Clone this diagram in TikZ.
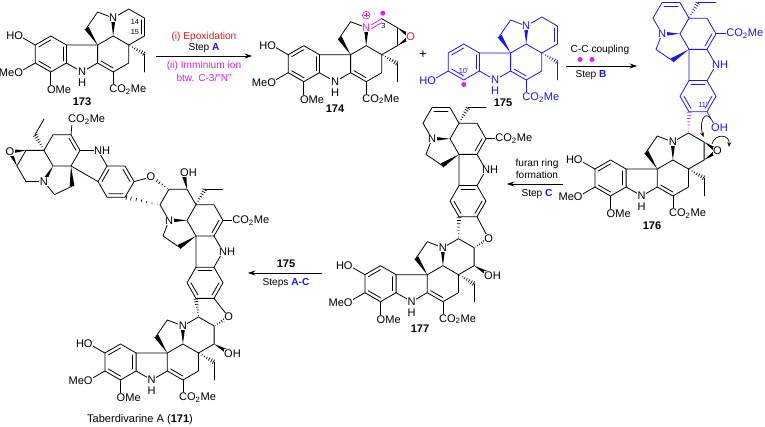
\documentclass[tikz,border=0pt]{standalone}
\usepackage{fontspec}
\setmainfont{Liberation Sans}
\usetikzlibrary{calc,arrows.meta}
\definecolor{cblue}{RGB}{25,25,235}
\definecolor{cpink}{RGB}{230,30,230}
\definecolor{cred}{RGB}{235,25,25}
\tikzset{
 bond/.style={line width=0.6pt, line cap=round, line join=round},
 atom/.style={fill=white, inner sep=0.4pt, font=\fontsize{8.3}{9}\selectfont},
 cpd/.style={inner sep=0pt, font=\fontsize{8.3}{9}\selectfont\bfseries},
 rxn/.style={inner sep=0pt, font=\fontsize{7.6}{9}\selectfont},
 num/.style={inner sep=0pt, font=\fontsize{5.5}{6}\selectfont},
 rarrow/.style={line width=0.6pt, -{Stealth[length=5.5pt,width=3.8pt]}},
 carrow/.style={line width=0.5pt, -{Stealth[length=3.5pt,width=2.8pt]}},
}
\newcommand{\defunit}[4]{%
 \begin{scope}[shift={(#2,#3)}, rotate=#4]
  \coordinate (#1C7) at (0,0);
  \coordinate (#1C21) at (15.6,-9);
  \coordinate (#1C20) at (31.2,0);
  \coordinate (#1C17) at (31.2,18);
  \coordinate (#1C16) at (15.6,27);
  \coordinate (#1C2) at (0,18);
  \coordinate (#1N1) at (-15.6,27);
  \coordinate (#1C13) at (-31.2,18);
  \coordinate (#1C8) at (-31.2,0);
  \coordinate (#1C9) at (-46.8,-9);
  \coordinate (#1C10) at (-62.4,0);
  \coordinate (#1C11) at (-62.4,18);
  \coordinate (#1C12) at (-46.8,27);
  \coordinate (#1Bc) at (-46.8,9);
  \coordinate (#1Cc) at (15.6,9);
  \coordinate (#1Dc) at (31.2,-18);
  \coordinate (#1N4) at (15.6,-27);
  \coordinate (#1C3) at (31.2,-36);
  \coordinate (#1C14) at (46.8,-27);
  \coordinate (#1C15) at (46.8,-9);
  \coordinate (#1C6) at (-11,-17);
  \coordinate (#1C5) at (0,-33);
  \coordinate (#1E1) at (46.8,9);
  \coordinate (#1E2) at (46.8,27);
 \end{scope}}
\newcommand{\wdg}[3][black]{\fill[#1] (#2) -- ($(#3)!1.8pt!90:(#2)$) -- ($(#3)!1.8pt!-90:(#2)$) -- cycle;}
\newcommand{\hsh}[3][black]{\foreach \hp/\hw in {0.08/0.25pt,0.23/0.5pt,0.38/0.75pt,0.53/1pt,0.68/1.25pt,0.83/1.5pt,0.96/1.75pt}{\draw[#1,line width=0.5pt] ($(#2)!\hp!(#3)!\hw!90:(#3)$) -- ($(#2)!\hp!(#3)!\hw!-90:(#3)$);}}
\newcommand{\dbl}[4][black]{\draw[bond,#1] ($(#2)!0.22!(#4)$) -- ($(#3)!0.22!(#4)$);}
\newcommand{\skel}[2]{%
 \begin{scope}[bond, color=#2]
 \draw (#1C8)--(#1C9)--(#1C10)--(#1C11)--(#1C12)--(#1C13)--cycle;
 \draw ($(#1C9)!0.22!(#1Bc)$)--($(#1C10)!0.22!(#1Bc)$);
 \draw ($(#1C11)!0.22!(#1Bc)$)--($(#1C12)!0.22!(#1Bc)$);
 \draw ($(#1C13)!0.22!(#1Bc)$)--($(#1C8)!0.22!(#1Bc)$);
 \draw (#1C8)--(#1C7)--(#1C2)--(#1N1)--(#1C13);
 \draw (#1C7)--(#1C21)--(#1C20)--(#1C17)--(#1C16)--(#1C2);
 \draw ($(#1C2)!0.22!(#1Cc)$)--($(#1C16)!0.22!(#1Cc)$);
 \draw (#1N4)--(#1C5)--(#1C6);
 \draw (#1E1)--(#1E2);
 \end{scope}
 \wdg[#2]{#1C7}{#1C6}
 \wdg[#2]{#1C21}{#1N4}
 \hsh[#2]{#1C20}{#1E1}}
\newcommand{\ringD}[2]{\draw[bond,#2] (#1N4)--(#1C3)--(#1C14)--(#1C15)--(#1C20);}
\newcommand{\subsL}[1]{\draw[bond] (#1C10)--++(-13.9,-8); \draw[bond] (#1C11)--++(-13.9,8); \draw[bond] (#1C12)--++(0,14);}
\newcommand{\subsLlab}[1]{%
 \node[atom,anchor=east] (#1HO) at ($(#1C10)+(-11.5,-9.5)$) {HO};
 \node[atom,anchor=east] (#1MeO) at ($(#1C11)+(-11.5,9.5)$) {MeO};
 \node[atom,anchor=west] (#1OMe) at ($(#1C12)+(-4.6,17.5)$) {OMe};}
\newcommand{\coL}[1]{\draw[bond] (#1C16)--++(0,13);}
\newcommand{\coLlab}[2]{\node[atom,anchor=west,text=#2] (#1CO) at ($(#1C16)+(-4.6,17.5)$) {CO\textsubscript{2}Me};}
\newcommand{\nhL}[2]{\node[atom,text=#2] (#1lN1) at (#1N1) {N}; \node[atom,text=#2] (#1lH1) at ($(#1N1)+(0,10.5)$) {H};}
\newcommand{\nfour}[2]{\node[atom,text=#2] (#1lN4) at (#1N4) {N};}
\begin{document}
\begin{tikzpicture}[x=0.75pt,y=-0.75pt]
\fill[white] (0,0) rectangle (765,427);
\useasboundingbox (0,0) rectangle (765,427);
% ---------- units ----------
\defunit{a}{97.6}{45}{0}
\defunit{b}{350.6}{54.7}{0}
\defunit{c}{510.6}{53}{0}
\defunit{d}{657.3}{169}{0}
\defunit{e}{689}{49.4}{90}
\defunit{f}{427.3}{274.7}{0}
\defunit{g}{459}{154.4}{90}
\defunit{h}{167.3}{353}{0}
\defunit{i}{196}{236}{90}
\defunit{j}{71}{166}{150}
\coordinate (bM) at ($(bC14)!0.5!(bC15)$);
\coordinate (bO) at ($(bDc)!1.85!(bM)$);
\coordinate (dM) at ($(dC14)!0.5!(dC15)$);
\coordinate (dO) at ($(dDc)!1.85!(dM)$);
\coordinate (jM) at ($(jC14)!0.5!(jC15)$);
\coordinate (jO) at ($(jDc)!1.85!(jM)$);
\coordinate (fO) at ($(fC14)+(14.5,-9)$);
\coordinate (fOH) at ($(fC15)+(13.9,8)$);
\coordinate (hO) at ($(hC14)+(14.5,-9)$);
\coordinate (hOH) at ($(hC15)+(13.9,8)$);
\coordinate (iO) at (151,177);
\coordinate (iOH) at (184,175);
\coordinate (eOH) at ($(eC11)+(8,13.9)$);
% ---------- bonds ----------
% 173
\skel{a}{black} \ringD{a}{black} \dbl{aC14}{aC15}{aDc} \subsL{a} \coL{a}
% 174
\skel{b}{black}
\draw[bond,cpink] (bN4)--(bC3); \dbl[cpink]{bN4}{bC3}{bDc}
\draw[bond] (bC3)--(bC14)--(bC15)--(bC20);
\wdg{bC14}{bO} \wdg{bC15}{bO}
\subsL{b} \coL{b}
% 175
\skel{c}{cblue} \ringD{c}{cblue} \dbl[cblue]{cC14}{cC15}{cDc}
\draw[bond,cblue] (cC11)--++(-13.9,8);
\draw[bond,cblue] (cC16)--++(0,13);
% 176
\skel{d}{black} \ringD{d}{black} \wdg{dC14}{dO} \wdg{dC15}{dO} \subsL{d} \coL{d}
\skel{e}{cblue} \ringD{e}{cblue} \dbl[cblue]{eC14}{eC15}{eDc}
\draw[bond,cblue] (eC11)--(eOH);
\draw[bond,cblue] (eC16)--++(13,0);
\hsh[cpink]{dC3}{eC10}
% 177
\skel{f}{black} \ringD{f}{black}
\hsh{fC14}{fO} \draw[bond] (fO)--(gC11); \hsh{fC3}{gC10} \wdg{fC15}{fOH}
\subsL{f} \coL{f}
\skel{g}{black} \ringD{g}{black} \dbl{gC14}{gC15}{gDc}
\draw[bond] (gC16)--++(12,0);
% 171
\skel{h}{black} \ringD{h}{black}
\hsh{hC14}{hO} \draw[bond] (hO)--(iC11); \hsh{hC3}{iC10} \wdg{hC15}{hOH}
\subsL{h} \coL{h}
\skel{i}{black} \ringD{i}{black}
\hsh{iC14}{iO} \draw[bond] (iO)--(jC11); \hsh{iC3}{jC10} \wdg{iC15}{iOH}
\draw[bond] (iC16)--++(12,0);
\skel{j}{black} \ringD{j}{black} \wdg{jC14}{jO} \wdg{jC15}{jO}
\draw[bond] (jC16)--++(1,-11);
% ---------- labels ----------
% 173
\nfour{a}{black} \nhL{a}{black} \subsLlab{a} \coLlab{a}{black}
\node[num] (a14) at ($(aC14)+(-9.5,4)$) {14};
\node[num] (a15) at ($(aC15)+(-9.5,-4)$) {15};
\node[cpd] (l173) at (82,102) {173};
% 174
\node[atom,text=cpink] (bN4l) at (bN4) {N};
\draw[cpink,line width=0.45pt] ($(bN4)+(0,-12.5)$) circle (3.8);
\draw[cpink,line width=0.45pt] ($(bN4)+(-2.3,-12.5)$) -- ($(bN4)+(2.3,-12.5)$) ($(bN4)+(0,-14.8)$) -- ($(bN4)+(0,-10.2)$);
\fill[cpink] ($(bC3)+(1,-5.5)$) circle (2.5);
\node[num] (b3) at ($(bC3)+(1.5,7.5)$) {3};
\node[atom,text=cred] (bOl) at (bO) {O};
\nhL{b}{black} \subsLlab{b} \coLlab{b}{black}
\node[cpd] (l174) at (335,109) {174};
% plus
\node[inner sep=0pt, font=\fontsize{10}{10}\selectfont] (plus) at (423,55) {+};
% 175
\nfour{c}{cblue} \nhL{c}{cblue}
\node[atom,text=cblue,anchor=east] (cHO) at ($(cC11)+(-11.5,9.5)$) {HO};
\coLlab{c}{cblue}
\fill[cpink] ($(cC12)+(0,4.5)$) circle (2.5);
\node[num,text=cblue] (c10) at ($(cC12)!0.5!(cBc)$) {10'};
\node[cpd] (l175) at (503,103) {175};
% 176
\nfour{d}{black} \nhL{d}{black} \subsLlab{d} \coLlab{d}{black}
\node[atom] (dOl) at (dO) {O};
\nfour{e}{cblue}
\node[atom,text=cblue,anchor=west] (eNH) at ($(eN1)+(-4.6,0)$) {NH};
\node[atom,text=cblue,anchor=west] (eOHl) at ($(eOH)+(-4.6,1.5)$) {OH};
\node[atom,text=cblue,anchor=west] (eCO) at ($(eC16)+(9.5,0)$) {CO\textsubscript{2}Me};
\node[num,text=cblue] (e11) at ($(eC11)!0.45!(eBc)$) {11'};
\node[cpd] (l176) at (652,226) {176};
\draw[carrow] (711,119) .. controls (704,109) and (699,124) .. (703.5,137);
\draw[carrow] (712,144) .. controls (715,133) and (730,134) .. (729,147);
% 177
\nfour{f}{black} \nhL{f}{black} \subsLlab{f} \coLlab{f}{black}
\node[atom] (fOl) at (fO) {O};
\node[atom,anchor=west] (fOHl) at ($(fOH)+(-4.6,1.5)$) {OH};
\nfour{g}{black}
\node[atom,anchor=west] (gNH) at ($(gN1)+(-4.6,0)$) {NH};
\node[atom,anchor=west] (gCO) at ($(gC16)+(8.5,0)$) {CO\textsubscript{2}Me};
\node[cpd] (l177) at (420,329) {177};
% 171
\nfour{h}{black} \nhL{h}{black} \subsLlab{h} \coLlab{h}{black}
\node[atom] (hOl) at (hO) {O};
\node[atom,anchor=west] (hOHl) at ($(hOH)+(-4.6,1.5)$) {OH};
\nfour{i}{black}
\node[atom,anchor=west] (iNH) at ($(iN1)+(-4.6,0)$) {NH};
\node[atom] (iOl) at (iO) {O};
\node[atom,anchor=west] (iOHl) at ($(iOH)+(-4.6,-2)$) {OH};
\node[atom,anchor=west] (iCO) at ($(iC16)+(8.5,0)$) {CO\textsubscript{2}Me};
\nfour{j}{black}
\node[atom,anchor=west] (jNH) at ($(jN1)+(-4.6,0)$) {NH};
\node[atom] (jOl) at (jO) {O};
\node[atom,anchor=west] (jCO) at ($(jC16)+(-3.6,-15.5)$) {CO\textsubscript{2}Me};
\node[inner sep=0pt, font=\fontsize{8.3}{9}\selectfont] (l171) at (140,420) {Taberdivarine A (\textbf{171})};
% ---------- reaction arrows ----------
\coordinate (arA1) at (156,56); \coordinate (arA2) at (252,56);
\draw[rarrow] (arA1) -- (arA2);
\node[rxn,text=cred] (tA1) at (204,37) {(i) Epoxidation};
\node[rxn] (tA2) at (204,48.5) {Step \textcolor{cblue}{\bfseries A}};
\node[rxn,text=cpink] (tA3) at (204,66) {(ii) Imminium ion};
\node[rxn,text=cpink] (tA4) at (204,78) {btw. C-3/"N"};
\coordinate (arB1) at (566,66); \coordinate (arB2) at (637,66);
\draw[rarrow] (arB1) -- (arB2);
\node[rxn] (tB1) at (600,50) {C-C coupling};
\fill[cpink] (580,59.5) circle (2.5);
\fill[cpink] (592,59.5) circle (2.5);
\node[rxn] (tB2) at (591,75) {Step \textcolor{cblue}{\bfseries B}};
\coordinate (arC1) at (563,184); \coordinate (arC2) at (507,184);
\draw[rarrow] (arC1) -- (arC2);
\node[rxn] (tC1) at (537,163.5) {furan ring};
\node[rxn] (tC2) at (537,175) {formation};
\node[rxn] (tC3) at (537,194) {Step \textcolor{cblue}{\bfseries C}};
\coordinate (arD1) at (322,273); \coordinate (arD2) at (248,273);
\draw[rarrow] (arD1) -- (arD2);
\node[cpd] (tD1) at (286,264) {175};
\node[rxn] (tD2) at (286,283) {Steps \textcolor{cblue}{\bfseries A-C}};
\end{tikzpicture}
\end{document}
